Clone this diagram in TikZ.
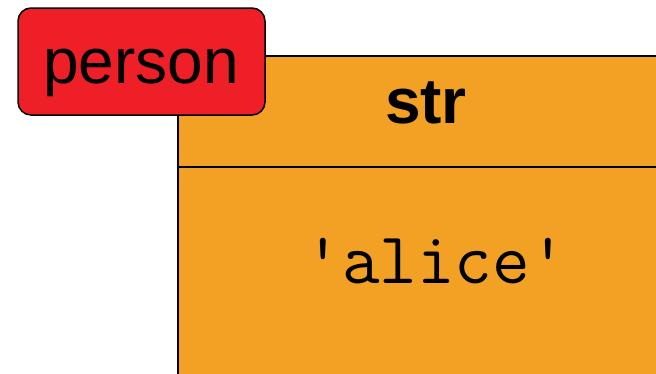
\documentclass[tikz,border=0pt]{standalone}
\usepackage{fontspec}
\setmainfont{Liberation Sans}
\definecolor{objfill}{HTML}{F2A124}
\definecolor{namefill}{HTML}{EE1F27}
\begin{document}
\begin{tikzpicture}[x=1pt,y=-1pt,
  edge/.style={draw=black,line width=1.5pt},
  bigtext/.style={inner sep=0pt,anchor=base,font=\fontsize{64}{64}\selectfont}]
\useasboundingbox (0,0) rectangle (656,373);
\begin{scope}
\clip (0,0) rectangle (656,373);
% object box with type header and value section
\fill[objfill] (178,56) rectangle (700,420);
\draw[edge] (178,420) -- (178,56) -- (700,56);
\draw[edge] (178,167) -- (700,167);
\end{scope}
\node[bigtext,font=\fontsize{64}{64}\selectfont\bfseries] (typename) at (426,123) {str};
\node[bigtext,font=\fontsize{73}{73}\selectfont\ttfamily] (value) at (436,283) {'alice'};
% variable name tag
\draw[edge,fill=namefill,rounded corners=13pt] (18,8) rectangle (265,115);
\node[bigtext] (varname) at (141,83) {person};
\end{tikzpicture}
\end{document}
